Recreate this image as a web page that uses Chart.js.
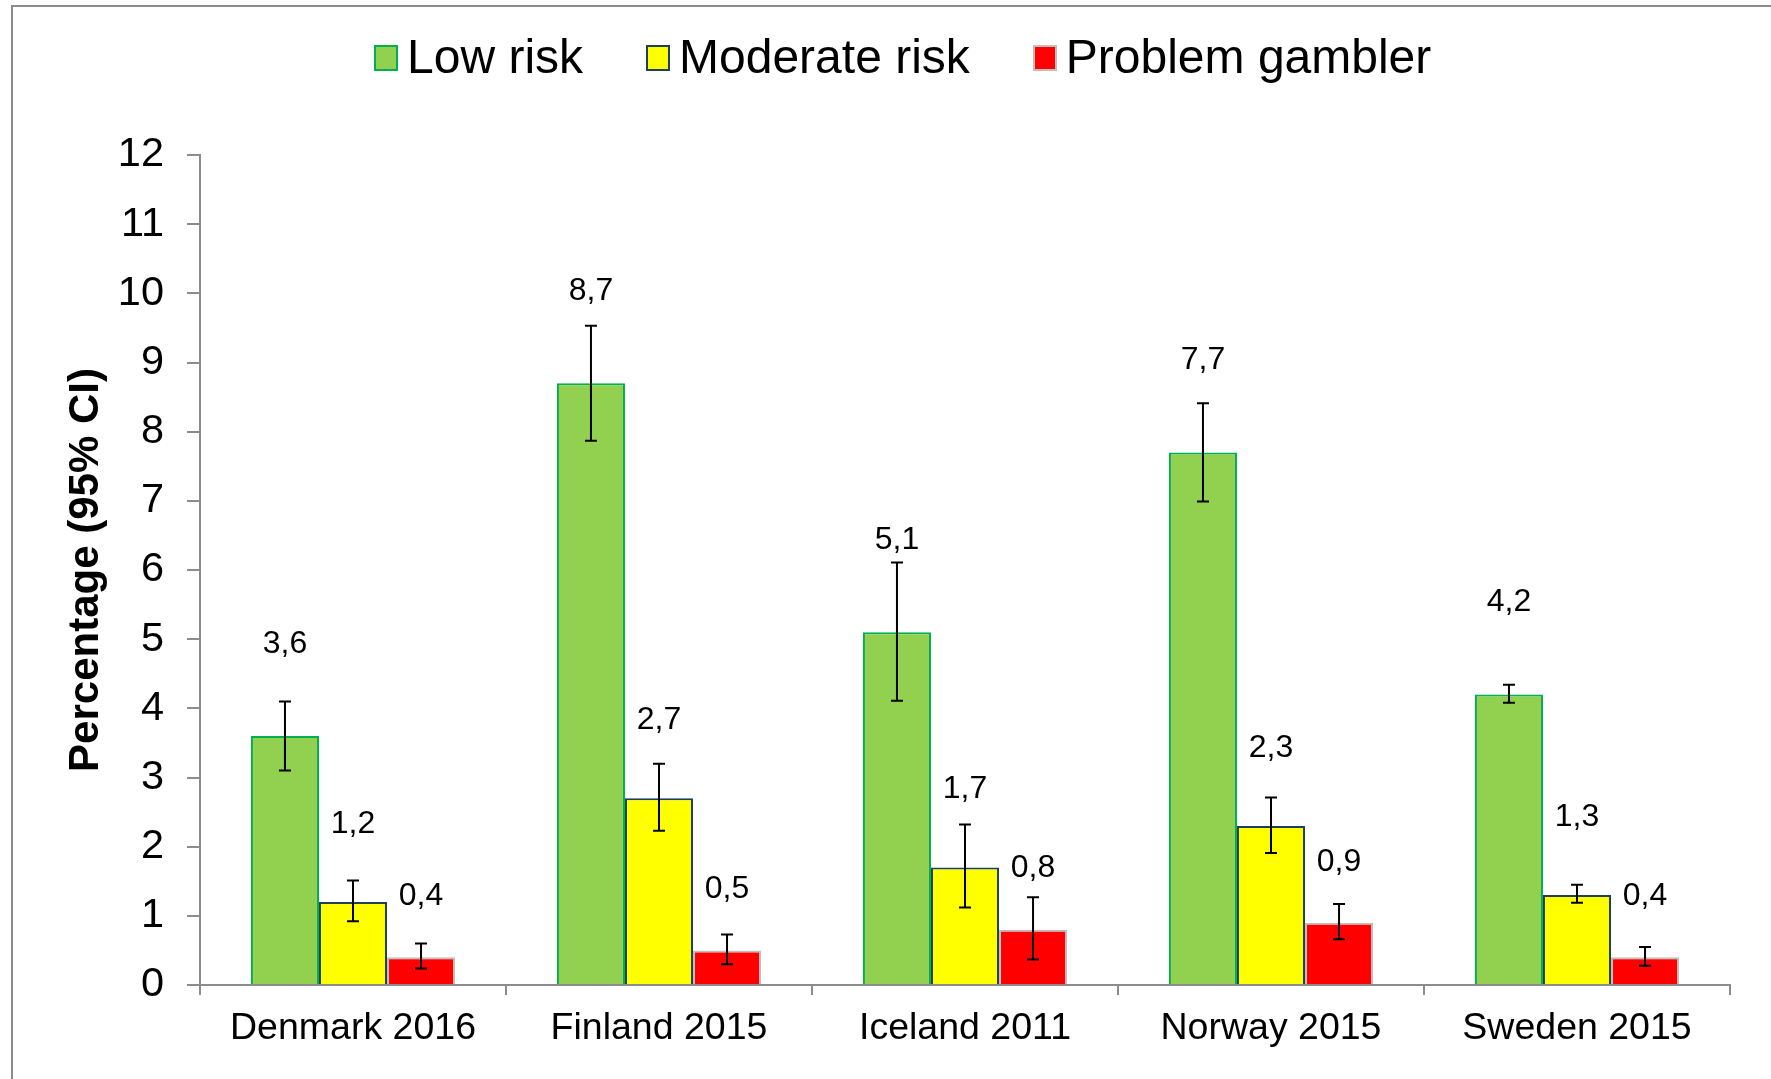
<!DOCTYPE html>
<html>
<head>
<meta charset="utf-8">
<script src="https://cdn.jsdelivr.net/npm/chart.js@4/dist/chart.umd.min.js"></script>
<style>
  html, body { margin: 0; padding: 0; background: #ffffff; }
  body { width: 1771px; height: 1079px; position: relative; overflow: hidden; font-family: "Liberation Sans", Arial, sans-serif; }
  #frame { position: absolute; left: 11px; top: 5px; width: 1800px; height: 1200px; border-top: 2px solid #8c8c8c; border-left: 2px solid #8c8c8c; pointer-events: none; }
  #wrap { position: absolute; left: 0; top: 0; width: 1771px; height: 1079px; }
  #legend { position: absolute; left: 374px; top: 29px; display: flex; align-items: center; font-size: 48px; color: #000; white-space: nowrap; }
  .item { display: flex; align-items: center; margin-right: 63px; }
  .box { width: 20px; height: 22px; box-sizing: content-box; margin-right: 9px; margin-top: 3px; }
</style>
</head>
<body>
<div id="wrap"><canvas id="c" width="1771" height="1079"></canvas></div>
<div id="legend"></div>
<div id="frame"></div>
<script>
const categories = ['Denmark 2016', 'Finland 2015', 'Iceland 2011', 'Norway 2015', 'Sweden 2015'];
const seriesNames = ['Low risk', 'Moderate risk', 'Problem gambler'];

const lowRisk = [3.6, 8.7, 5.1, 7.7, 4.2];
const lowRiskCILower = [3.10, 7.87, 4.11, 6.99, 4.08];
const lowRiskCIUpper = [4.10, 9.53, 6.11, 8.41, 4.34];

const moderateRisk = [1.2, 2.7, 1.7, 2.3, 1.3];
const moderateRiskCILower = [0.92, 2.23, 1.12, 1.91, 1.19];
const moderateRiskCIUpper = [1.51, 3.20, 2.32, 2.71, 1.45];

const problemGambler = [0.4, 0.5, 0.8, 0.9, 0.4];
const problemGamblerCILower = [0.24, 0.30, 0.37, 0.66, 0.28];
const problemGamblerCIUpper = [0.60, 0.73, 1.27, 1.17, 0.55];

const yTickValues = [0, 1, 2, 3, 4, 5, 6, 7, 8, 9, 10, 11, 12];
const yAxisTitle = 'Percentage (95% CI)';

const fills = ['#92D050', '#FFFF00', '#FF0000'];
const borders = ['#00B050', '#1F3F5F', '#BFBFBF'];
const labelOffsets = [92, 78, 61];

const seriesValues = [lowRisk, moderateRisk, problemGambler];
const ciLower = [lowRiskCILower, moderateRiskCILower, problemGamblerCILower];
const ciUpper = [lowRiskCIUpper, moderateRiskCIUpper, problemGamblerCIUpper];

// HTML legend built from series names
const legendEl = document.getElementById('legend');
seriesNames.forEach((name, i) => {
  const item = document.createElement('div');
  item.className = 'item';
  const box = document.createElement('span');
  box.className = 'box';
  box.style.background = fills[i];
  box.style.border = '2px solid ' + borders[i];
  const txt = document.createElement('span');
  txt.textContent = name;
  item.appendChild(box);
  item.appendChild(txt);
  legendEl.appendChild(item);
});

const FONT = '"Liberation Sans", Arial, sans-serif';

const errorBarsAndLabels = {
  id: 'errorBarsAndLabels',
  afterDatasetsDraw(chart) {
    const ctx = chart.ctx;
    const y = chart.scales.y;
    chart.data.datasets.forEach((ds, di) => {
      const meta = chart.getDatasetMeta(di);
      meta.data.forEach((bar, i) => {
        const x = bar.x;
        const yLo = y.getPixelForValue(ciLower[di][i]);
        const yHi = y.getPixelForValue(ciUpper[di][i]);
        ctx.save();
        ctx.strokeStyle = '#000000';
        ctx.lineWidth = 2;
        ctx.beginPath();
        ctx.moveTo(x, yLo); ctx.lineTo(x, yHi);
        ctx.moveTo(x - 6, yLo); ctx.lineTo(x + 6, yLo);
        ctx.moveTo(x - 6, yHi); ctx.lineTo(x + 6, yHi);
        ctx.stroke();
        ctx.fillStyle = '#000000';
        ctx.font = '32px ' + FONT;
        ctx.textAlign = 'center';
        ctx.textBaseline = 'middle';
        const txt = ds.data[i].toFixed(1).replace('.', ',');
        ctx.fillText(txt, x, bar.y - labelOffsets[di]);
        ctx.restore();
      });
    });
  }
};

new Chart(document.getElementById('c'), {
  type: 'bar',
  data: {
    labels: categories,
    datasets: seriesNames.map((name, i) => ({
      label: name,
      data: seriesValues[i],
      backgroundColor: fills[i],
      borderColor: borders[i],
      borderWidth: 2,
      categoryPercentage: 0.667,
      barPercentage: 1.0
    }))
  },
  options: {
    responsive: false,
    animation: false,
    devicePixelRatio: 1,
    layout: { padding: { top: 155, right: 41, left: 0, bottom: 0 } },
    plugins: {
      legend: { display: false },
      tooltip: { enabled: false }
    },
    scales: {
      x: {
        type: 'category',
        offset: true,
        grid: { display: true, offset: true, drawOnChartArea: false, drawTicks: true, tickLength: 10, color: '#8c8c8c', lineWidth: 2 },
        border: { display: true, color: '#8c8c8c', width: 2 },
        ticks: { color: '#000000', font: { family: FONT, size: 37.5 }, padding: 11, maxRotation: 0, autoSkip: false },
        afterFit(scale) { scale.height = 94; }
      },
      y: {
        min: 0,
        max: 12,
        afterBuildTicks(scale) { scale.ticks = yTickValues.map(v => ({ value: v })); },
        grid: { display: true, drawOnChartArea: false, drawTicks: true, tickLength: 13, color: '#8c8c8c', lineWidth: 2 },
        border: { display: true, color: '#8c8c8c', width: 2 },
        ticks: { color: '#000000', font: { family: FONT, size: 41.5 }, padding: 23 },
        title: { display: true, text: yAxisTitle, color: '#000000', font: { family: FONT, size: 42, weight: 'bold' }, padding: { top: 61, bottom: 0 } },
        afterFit(scale) { scale.width = 200; }
      }
    }
  },
  plugins: [errorBarsAndLabels]
});
</script>
</body>
</html>
